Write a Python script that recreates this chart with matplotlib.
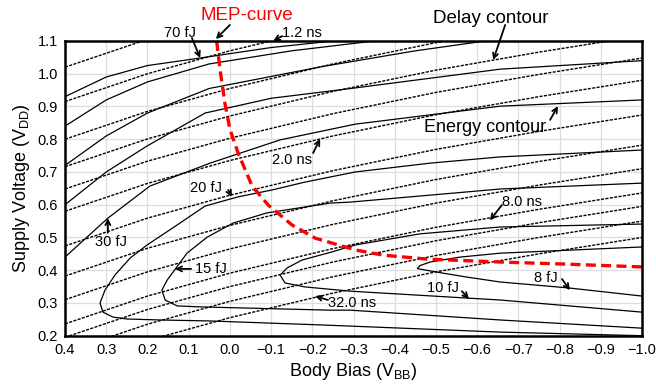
import matplotlib
matplotlib.use("Agg")
import matplotlib.pyplot as plt

plt.rcParams['font.family'] = ['Liberation Sans', 'DejaVu Sans']

# ---------------- delay contours (dashed), x = body bias, y = VDD ----------------
delay_x = [0.4, 0.2, 0.0, -0.25, -0.5, -0.75, -1.0]
delay_32ns = [0.10, 0.185, 0.255, 0.330, 0.395, 0.450, 0.500]
delay_22ns = [0.15, 0.235, 0.305, 0.380, 0.445, 0.500, 0.550]
delay_16ns = [0.195, 0.280, 0.350, 0.425, 0.490, 0.545, 0.595]
delay_8ns = [0.236, 0.321, 0.391, 0.466, 0.531, 0.586, 0.636]
delay_5ns = [0.310, 0.395, 0.465, 0.540, 0.605, 0.660, 0.710]
delay_4ns = [0.382, 0.467, 0.537, 0.612, 0.677, 0.732, 0.782]
delay_3ns = [0.474, 0.559, 0.629, 0.704, 0.769, 0.824, 0.874]
delay_2ns = [0.580, 0.665, 0.735, 0.810, 0.875, 0.930, 0.980]
delay_18ns = [0.648, 0.733, 0.803, 0.878, 0.943, 0.998, 1.048]
delay_16 = [0.716, 0.801, 0.871, 0.946, 1.011, 1.066, 1.116]
delay_14ns = [0.800, 0.885, 0.955, 1.030, 1.095, 1.150, 1.200]
delay_12ns = [0.915, 1.000, 1.070, 1.145, 1.210, 1.265, 1.315]
delay_10ns = [1.020, 1.105, 1.175, 1.250, 1.315, 1.370, 1.420]
delay_lines = [delay_32ns, delay_22ns, delay_16ns, delay_8ns, delay_5ns, delay_4ns,
               delay_3ns, delay_2ns, delay_18ns, delay_16, delay_14ns, delay_12ns, delay_10ns]

# ---------------- energy contours (solid) ----------------
e8_x = [-1.0, -0.656, -0.558, -0.486, -0.461, -0.455, -0.503, -0.575, -0.656, -0.821, -1.0]
e8_y = [0.471, 0.452, 0.440, 0.425, 0.414, 0.405, 0.394, 0.379, 0.364, 0.346, 0.321]

e10_x = [-1.0, -0.656, -0.461, -0.304, -0.248, -0.175, -0.139, -0.122, -0.134, -0.182, -0.292, -0.575, -0.656, -1.0]
e10_y = [0.541, 0.532, 0.511, 0.477, 0.456, 0.431, 0.407, 0.385, 0.361, 0.349, 0.336, 0.315, 0.309, 0.272]

e15_x = [-1.0, -0.656, -0.292, -0.243, -0.090, -0.008, 0.055, 0.104, 0.152, 0.165, 0.157, 0.128, 0.072, -0.243, -0.292, -0.656, -1.0]
e15_y = [0.666, 0.648, 0.608, 0.605, 0.575, 0.544, 0.501, 0.452, 0.370, 0.339, 0.309, 0.291, 0.288, 0.278, 0.278, 0.248, 0.223]

e20_x = [-1.0, -0.656, -0.486, -0.304, -0.182, -0.102, -0.020, 0.060, 0.128, 0.201, 0.242, 0.279, 0.303, 0.315,
         0.308, 0.284, 0.250, 0.169, 0.048, -0.219, -0.656, -1.0]
e20_y = [0.767, 0.746, 0.727, 0.700, 0.669, 0.645, 0.624, 0.596, 0.538, 0.477, 0.437, 0.385, 0.339, 0.300,
         0.272, 0.257, 0.251, 0.248, 0.245, 0.233, 0.211, 0.200]

e30_x = [0.4, 0.296, 0.194, 0.048, -0.122, -0.304, -0.656, -1.0]
e30_y = [0.440, 0.559, 0.657, 0.727, 0.798, 0.846, 0.901, 0.920]

e40_x = [0.4, 0.3, 0.2, 0.06, -0.1, -0.3, -0.656, -1.0]
e40_y = [0.60, 0.70, 0.78, 0.88, 0.925, 0.956, 1.014, 1.04]

e50_x = [0.4, 0.3, 0.2, 0.05, -0.22, -0.45, -0.62]
e50_y = [0.72, 0.81, 0.88, 0.955, 1.021, 1.07, 1.10]

e60_x = [0.4, 0.3, 0.2, 0.05, -0.15, -0.35]
e60_y = [0.84, 0.92, 0.975, 1.03, 1.07, 1.10]

e70_x = [0.4, 0.3, 0.2, 0.072, -0.1, -0.25]
e70_y = [0.93, 0.99, 1.025, 1.048, 1.08, 1.10]

energy_lines = [(e8_x, e8_y), (e10_x, e10_y), (e15_x, e15_y), (e20_x, e20_y), (e30_x, e30_y),
                (e40_x, e40_y), (e50_x, e50_y), (e60_x, e60_y), (e70_x, e70_y)]

# ---------------- MEP curve ----------------
mep_x = [0.032, 0.024, 0.012, 0.0, -0.020, -0.054, -0.093, -0.151, -0.207, -0.304, -0.372, -0.478, -0.656, -0.806, -1.0]
mep_y = [1.100, 1.014, 0.910, 0.831, 0.758, 0.657, 0.599, 0.538, 0.498, 0.462, 0.446, 0.434, 0.425, 0.419, 0.410]

x_ticks = [0.4, 0.3, 0.2, 0.1, 0.0, -0.1, -0.2, -0.3, -0.4, -0.5, -0.6, -0.7, -0.8, -0.9, -1.0]
y_ticks = [0.2, 0.3, 0.4, 0.5, 0.6, 0.7, 0.8, 0.9, 1.0, 1.1]

fig = plt.figure(figsize=(6.56, 3.90), dpi=100)
ax = fig.add_axes([65/656, 1 - 335.7/390, (642-65)/656, (335.7-41)/390])

for yv in delay_lines:
    ax.plot(delay_x, yv, color='black', lw=1.0, linestyle=(0, (2.2, 1.0)), zorder=3)
for xs, ys in energy_lines:
    ax.plot(xs, ys, color='black', lw=0.9, zorder=3)
ax.plot(mep_x, mep_y, color='#ff0000', lw=2.4, linestyle=(0, (3.0, 1.6)), zorder=5)

ax.set_xlim(0.4, -1.0)
ax.set_ylim(0.2, 1.1)
ax.set_xticks(x_ticks)
ax.set_yticks(y_ticks)
ax.set_xticklabels([f"{v:.1f}".replace('-', '\u2212') if v != 0 else "0.0" for v in x_ticks])
ax.set_yticklabels([f"{v:.1f}" for v in y_ticks])
ax.tick_params(length=0, labelsize=10.5, pad=5)
ax.grid(True, color='#dddddd', lw=0.9, zorder=0)
ax.set_axisbelow(True)
for s in ax.spines.values():
    s.set_linewidth(1.8)
    s.set_zorder(6)

ax.set_xlabel('Body Bias (V$_{\\mathregular{BB}}$)', fontsize=13, labelpad=3)
ax.set_ylabel('Supply Voltage (V$_{\\mathregular{DD}}$)', fontsize=13, labelpad=4)

arrow = dict(arrowstyle='->', color='black', lw=1.3, shrinkA=0, shrinkB=0, mutation_scale=9)

def note(text, xy, xytext, tail, size=10.5, color='black', ap=None):
    ax.annotate('', xy=xy, xytext=tail, xycoords='data', textcoords='data',
                arrowprops=ap if ap else arrow, annotation_clip=False, zorder=7)
    ax.text(xytext[0], xytext[1], text, ha='center', va='center', fontsize=size,
            color=color, clip_on=False, zorder=7)

note('MEP-curve', (0.034, 1.106), (-0.042, 1.179), (0.0, 1.149), size=13.5, color='#ff0000')
note('70 fJ', (0.072, 1.048), (0.121, 1.124), (0.092, 1.109))
note('1.2 ns', (-0.105, 1.100), (-0.175, 1.124), (-0.127, 1.115))
note('Delay contour', (-0.639, 1.042), (-0.634, 1.170), (-0.668, 1.149), size=13.5)
note('Energy contour', (-0.796, 0.901), (-0.619, 0.837), (-0.777, 0.859), size=13)
note('2.0 ns', (-0.219, 0.801), (-0.151, 0.737), (-0.202, 0.758))
note('20 fJ', (-0.005, 0.624), (0.058, 0.651), (0.004, 0.645))
note('30 fJ', (0.296, 0.559), (0.288, 0.486), (0.296, 0.514))
note('15 fJ', (0.133, 0.404), (0.046, 0.404), (0.094, 0.404))
note('8.0 ns', (-0.631, 0.552), (-0.709, 0.608), (-0.660, 0.599))
note('32.0 ns', (-0.207, 0.321), (-0.296, 0.300), (-0.238, 0.309))
note('10 fJ', (-0.580, 0.312), (-0.517, 0.346), (-0.563, 0.336))
note('8 fJ', (-0.825, 0.339), (-0.767, 0.376), (-0.806, 0.373))

fig.savefig('out.png', dpi=100)
